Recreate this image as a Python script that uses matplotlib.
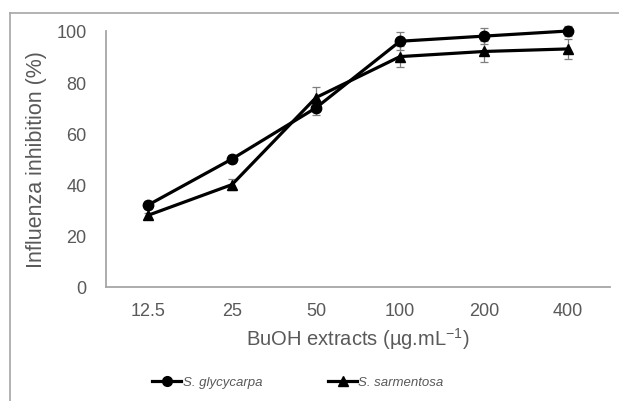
import matplotlib
matplotlib.use("Agg")
import matplotlib.pyplot as plt
from matplotlib.lines import Line2D
import numpy as np

categories = ["12.5", "25", "50", "100", "200", "400"]
glycycarpa = [32, 50, 70, 96, 98, 100]
glycycarpa_err = [1.5, 1.5, 3, 3.5, 3, 2]
sarmentosa = [28, 40, 74, 90, 92, 93]
sarmentosa_err = [1, 2, 4, 4, 4, 4]
y_ticks = [0, 20, 40, 60, 80, 100]

plt.rcParams['font.family'] = ['Liberation Sans', 'DejaVu Sans']
grey_text = '#595959'
spine_col = '#a6a6a6'

fig = plt.figure(figsize=(6.19, 4.02), dpi=100)
ax = fig.add_axes([106/619, 1-288/402, (610-106)/619, (288-32)/402])

x = np.arange(len(categories))
for vals, errs, mk, lab in [(glycycarpa, glycycarpa_err, 'o', 'S. glycycarpa'),
                            (sarmentosa, sarmentosa_err, '^', 'S. sarmentosa')]:
    cont = ax.errorbar(x, vals, yerr=errs, color='black', lw=2.3,
                       marker=mk, ms=7.5, ecolor='#7f7f7f', elinewidth=0.9, capsize=3,
                       capthick=0.9, label=lab, zorder=3)
    for art in cont.get_children():
        art.set_clip_on(False)

ax.set_xlim(-0.5, len(categories) - 0.5)
ax.set_ylim(0, 100)
ax.set_xticks(x)
ax.set_xticklabels(categories)
ax.set_yticks(y_ticks)
ax.tick_params(axis='both', length=0, labelsize=13, colors=grey_text)
ax.tick_params(axis='x', pad=11)
ax.tick_params(axis='y', pad=14)
for s in ['top', 'right']:
    ax.spines[s].set_visible(False)
for s in ['left', 'bottom']:
    ax.spines[s].set_color(spine_col)
    ax.spines[s].set_linewidth(1.3)

ax.set_xlabel('BuOH extracts (µg.mL$^{\\mathregular{-1}}$)', fontsize=14.5, color=grey_text, labelpad=4)
ax.set_ylabel('Influenza inhibition (%)', fontsize=15.5, color=grey_text, labelpad=7)

handles = [Line2D([], [], color='black', lw=2.3, marker='o', ms=7),
           Line2D([], [], color='black', lw=2.3, marker='^', ms=7)]
leg = fig.legend(handles, ['S. glycycarpa', 'S. sarmentosa'], loc='center',
                 bbox_to_anchor=(298/619, 1-383/402), ncol=2, frameon=False,
                 prop={'style': 'italic', 'size': 9.5}, handlelength=2.2,
                 handletextpad=0.1, columnspacing=5.0)
for t in leg.get_texts():
    t.set_color(grey_text)

# outer chart frame (cropped)
fig.add_artist(Line2D([10/619, 1], [1-14/402, 1-14/402], color=spine_col, lw=1.2,
                      transform=fig.transFigure))
fig.add_artist(Line2D([10/619, 10/619], [0, 1-14/402], color=spine_col, lw=1.2,
                      transform=fig.transFigure))

fig.savefig('out.png', dpi=100)
